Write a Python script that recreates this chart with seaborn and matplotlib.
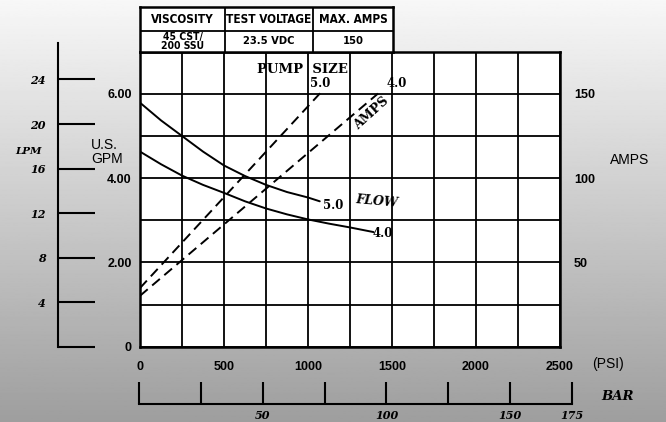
import numpy as np
import matplotlib
matplotlib.use("Agg")
import matplotlib.pyplot as plt
import seaborn as sns

# flow curves, US GPM against pressure in PSI
psi_flow_5 = [0, 125, 250, 375, 500, 625, 750, 875, 1000, 1070]
gpm_flow_5 = [5.79, 5.37, 5.00, 4.63, 4.30, 4.05, 3.84, 3.67, 3.54, 3.45]
psi_flow_4 = [0, 125, 250, 375, 500, 625, 750, 875, 1000, 1125, 1250, 1390]
gpm_flow_4 = [4.63, 4.33, 4.06, 3.84, 3.65, 3.45, 3.28, 3.14, 3.02, 2.92, 2.83, 2.72]

# amp draw, straight dashed lines
psi_amps_5 = [0, 1076]
amps_5 = [34.8, 150.8]
psi_amps_4 = [0, 1417]
amps_4 = [30.2, 150.2]

# axes ticks
psi_ticks = [0, 500, 1000, 1500, 2000, 2500]
gpm_ticks = [0, 2, 4, 6]
gpm_labels = ["0", "2.00", "4.00", "6.00"]
amp_ticks = [50, 100, 150]
lpm_ticks = [0, 4, 8, 12, 16, 20, 24]
lpm_labels = ["", "4", "8", "12", "16", "20", "24"]
bar_ticks = [0, 25, 50, 75, 100, 125, 150, 175]
bar_labels = ["", "", "50", "", "100", "", "150", "175"]

# spec table
table_head = ["VISCOSITY", "TEST VOLTAGE", "MAX. AMPS"]
table_vals = ["45 CST/\n200 SSU", "23.5 VDC", "150"]

GPM_TO_LPM = 3.785

sns.set_style("white")
plt.rcParams['font.family'] = ['Liberation Sans', 'DejaVu Sans']
plt.rcParams['text.color'] = 'black'
plt.rcParams['xtick.color'] = 'black'
plt.rcParams['ytick.color'] = 'black'
plt.rcParams['axes.labelcolor'] = 'black'

W, H = 666, 422
fig = plt.figure(figsize=(W / 100, H / 100), dpi=100)


def box(x0, y0, x1, y1):
    # pixel box, top-left origin -> figure fraction rect
    return [x0 / W, 1 - y1 / H, (x1 - x0) / W, (y1 - y0) / H]


def ftext(x, y, s, **kw):
    fig.text(x / W, 1 - y / H, s, **kw)


serif_b = dict(family=['DejaVu Serif'], weight='bold')
serif_bi = dict(family=['DejaVu Serif'], weight='bold', style='italic')

# grey gradient background
bg = fig.add_axes([0, 0, 1, 1], zorder=-10)
grad = np.linspace(0.97, 0.62, 256)[:, None]
bg.imshow(grad, cmap='gray', vmin=0, vmax=1, aspect='auto', extent=[0, 1, 0, 1])
bg.axis('off')

# main plot
ax = fig.add_axes(box(140, 51.7, 560, 346.7))
ax.set_facecolor('white')
ax.set_xlim(0, 2500)
ax.set_ylim(0, 7)
ax.set_xticks(psi_ticks)
ax.set_xticks(np.arange(0, 2501, 250), minor=True)
ax.set_yticks(gpm_ticks, gpm_labels)
ax.set_yticks(np.arange(0, 8, 1), minor=True)
ax.grid(which='both', color='black', lw=1.3)
ax.set_axisbelow(True)
ax.tick_params(which='both', length=0)
ax.tick_params(axis='x', pad=10, labelsize=9)
ax.tick_params(axis='y', pad=6, labelsize=9)
for lab in ax.get_xticklabels() + ax.get_yticklabels():
    lab.set_fontweight('bold')
for s in ax.spines.values():
    s.set_color('black')
    s.set_linewidth(1.8)

sns.lineplot(x=psi_flow_5, y=gpm_flow_5, ax=ax, color='black', lw=1.4)
sns.lineplot(x=psi_flow_4, y=gpm_flow_4, ax=ax, color='black', lw=1.4)

ax2 = ax.twinx()
ax2.set_ylim(0, 175)
ax2.set_yticks(amp_ticks)
ax2.tick_params(length=0, pad=10, labelsize=9)
for lab in ax2.get_yticklabels():
    lab.set_fontweight('bold')
for s in ax2.spines.values():
    s.set_visible(False)
sns.lineplot(x=psi_amps_5, y=amps_5, ax=ax2, color='black', lw=1.4,
             linestyle=(0, (5.2, 3.0)))
sns.lineplot(x=psi_amps_4, y=amps_4, ax=ax2, color='black', lw=1.4,
             linestyle=(0, (5.2, 3.0)))

# curve labels
ax.text(964, 6.58, "PUMP  SIZE", ha='center', va='center', fontsize=9.5, **serif_b)
ax.text(1071, 6.25, "5.0", ha='center', va='center', fontsize=8.5, **serif_b)
ax.text(1528, 6.25, "4.0", ha='center', va='center', fontsize=8.5, **serif_b)
ax.text(1379, 5.53, "AMPS", ha='center', va='center', fontsize=9, rotation=42, **serif_b)
ax.text(1149, 3.34, "5.0", ha='center', va='center', fontsize=8.5, **serif_b)
ax.text(1446, 2.69, "4.0", ha='center', va='center', fontsize=8.5, **serif_b)
ax.text(1409, 3.46, "FLOW", ha='center', va='center', fontsize=9, rotation=-5, **serif_bi)

# axis titles
ftext(91, 152, "U.S.\nGPM", ha='left', va='center', fontsize=10, linespacing=1.0)
ftext(610, 160, "AMPS", ha='left', va='center', fontsize=10)
ftext(592, 364, "(PSI)", ha='left', va='center', fontsize=10)
ftext(618, 397, "BAR", ha='center', va='center', fontsize=9.5, **serif_bi)
ftext(28, 152, "LPM", ha='center', va='center', fontsize=7.5, **serif_bi)

# LPM scale on the far left
lpm = fig.add_axes(box(58.3, 43, 95, 346.7))
lpm.patch.set_alpha(0)
lpm.set_xlim(0, 1)
lpm.set_ylim(0, 7 * (346.7 - 43) / 295 * GPM_TO_LPM)
lpm.set_xticks([])
lpm.set_yticks(lpm_ticks, lpm_labels)
lpm.tick_params(axis='y', left=True, direction='in', length=37 * 0.72, width=1.5,
                color='black', pad=9, labelsize=8)
for lab in lpm.get_yticklabels():
    lab.set(**serif_bi)
for s in ['top', 'right', 'bottom']:
    lpm.spines[s].set_visible(False)
lpm.spines['left'].set_color('black')
lpm.spines['left'].set_linewidth(1.5)

# BAR scale under the plot
bar = fig.add_axes(box(139, 382, 572, 404))
bar.patch.set_alpha(0)
bar.set_xlim(0, 175)
bar.set_yticks([])
bar.set_xticks(bar_ticks, bar_labels)
bar.tick_params(axis='x', bottom=True, direction='in', length=22 * 0.72, width=1.5,
                color='black', pad=4, labelsize=8)
for lab in bar.get_xticklabels():
    lab.set(**serif_bi)
for s in ['top', 'right', 'left']:
    bar.spines[s].set_visible(False)
bar.spines['bottom'].set_color('black')
bar.spines['bottom'].set_linewidth(1.5)

# spec table above the plot
tab = fig.add_axes(box(140, 7.3, 393.3, 51.7))
tab.set_facecolor('white')
tab.set_xlim(140, 393.3)
tab.set_ylim(51.7, 7.3)
tab.set_xticks([])
tab.set_yticks([])
for s in tab.spines.values():
    s.set_color('black')
    s.set_linewidth(1.8)
col_edges = [140, 225, 312.7, 393.3]
for xe in col_edges[1:-1]:
    tab.plot([xe, xe], [7.3, 51.7], color='black', lw=1.3)
tab.plot([140, 393.3], [31, 31], color='black', lw=1.3)
narrow = dict(family=['DejaVu Sans'], weight='bold', stretch='condensed')
for i in range(3):
    xc = (col_edges[i] + col_edges[i + 1]) / 2
    tab.text(xc, 19.5, table_head[i], ha='center', va='center', fontsize=8.5, **narrow)
    fs = 7.5 if "\n" in table_vals[i] else 8
    tab.text(xc, 41.5, table_vals[i], ha='center', va='center', fontsize=fs,
             linespacing=0.8, **narrow)

fig.savefig("out.png", dpi=100)
